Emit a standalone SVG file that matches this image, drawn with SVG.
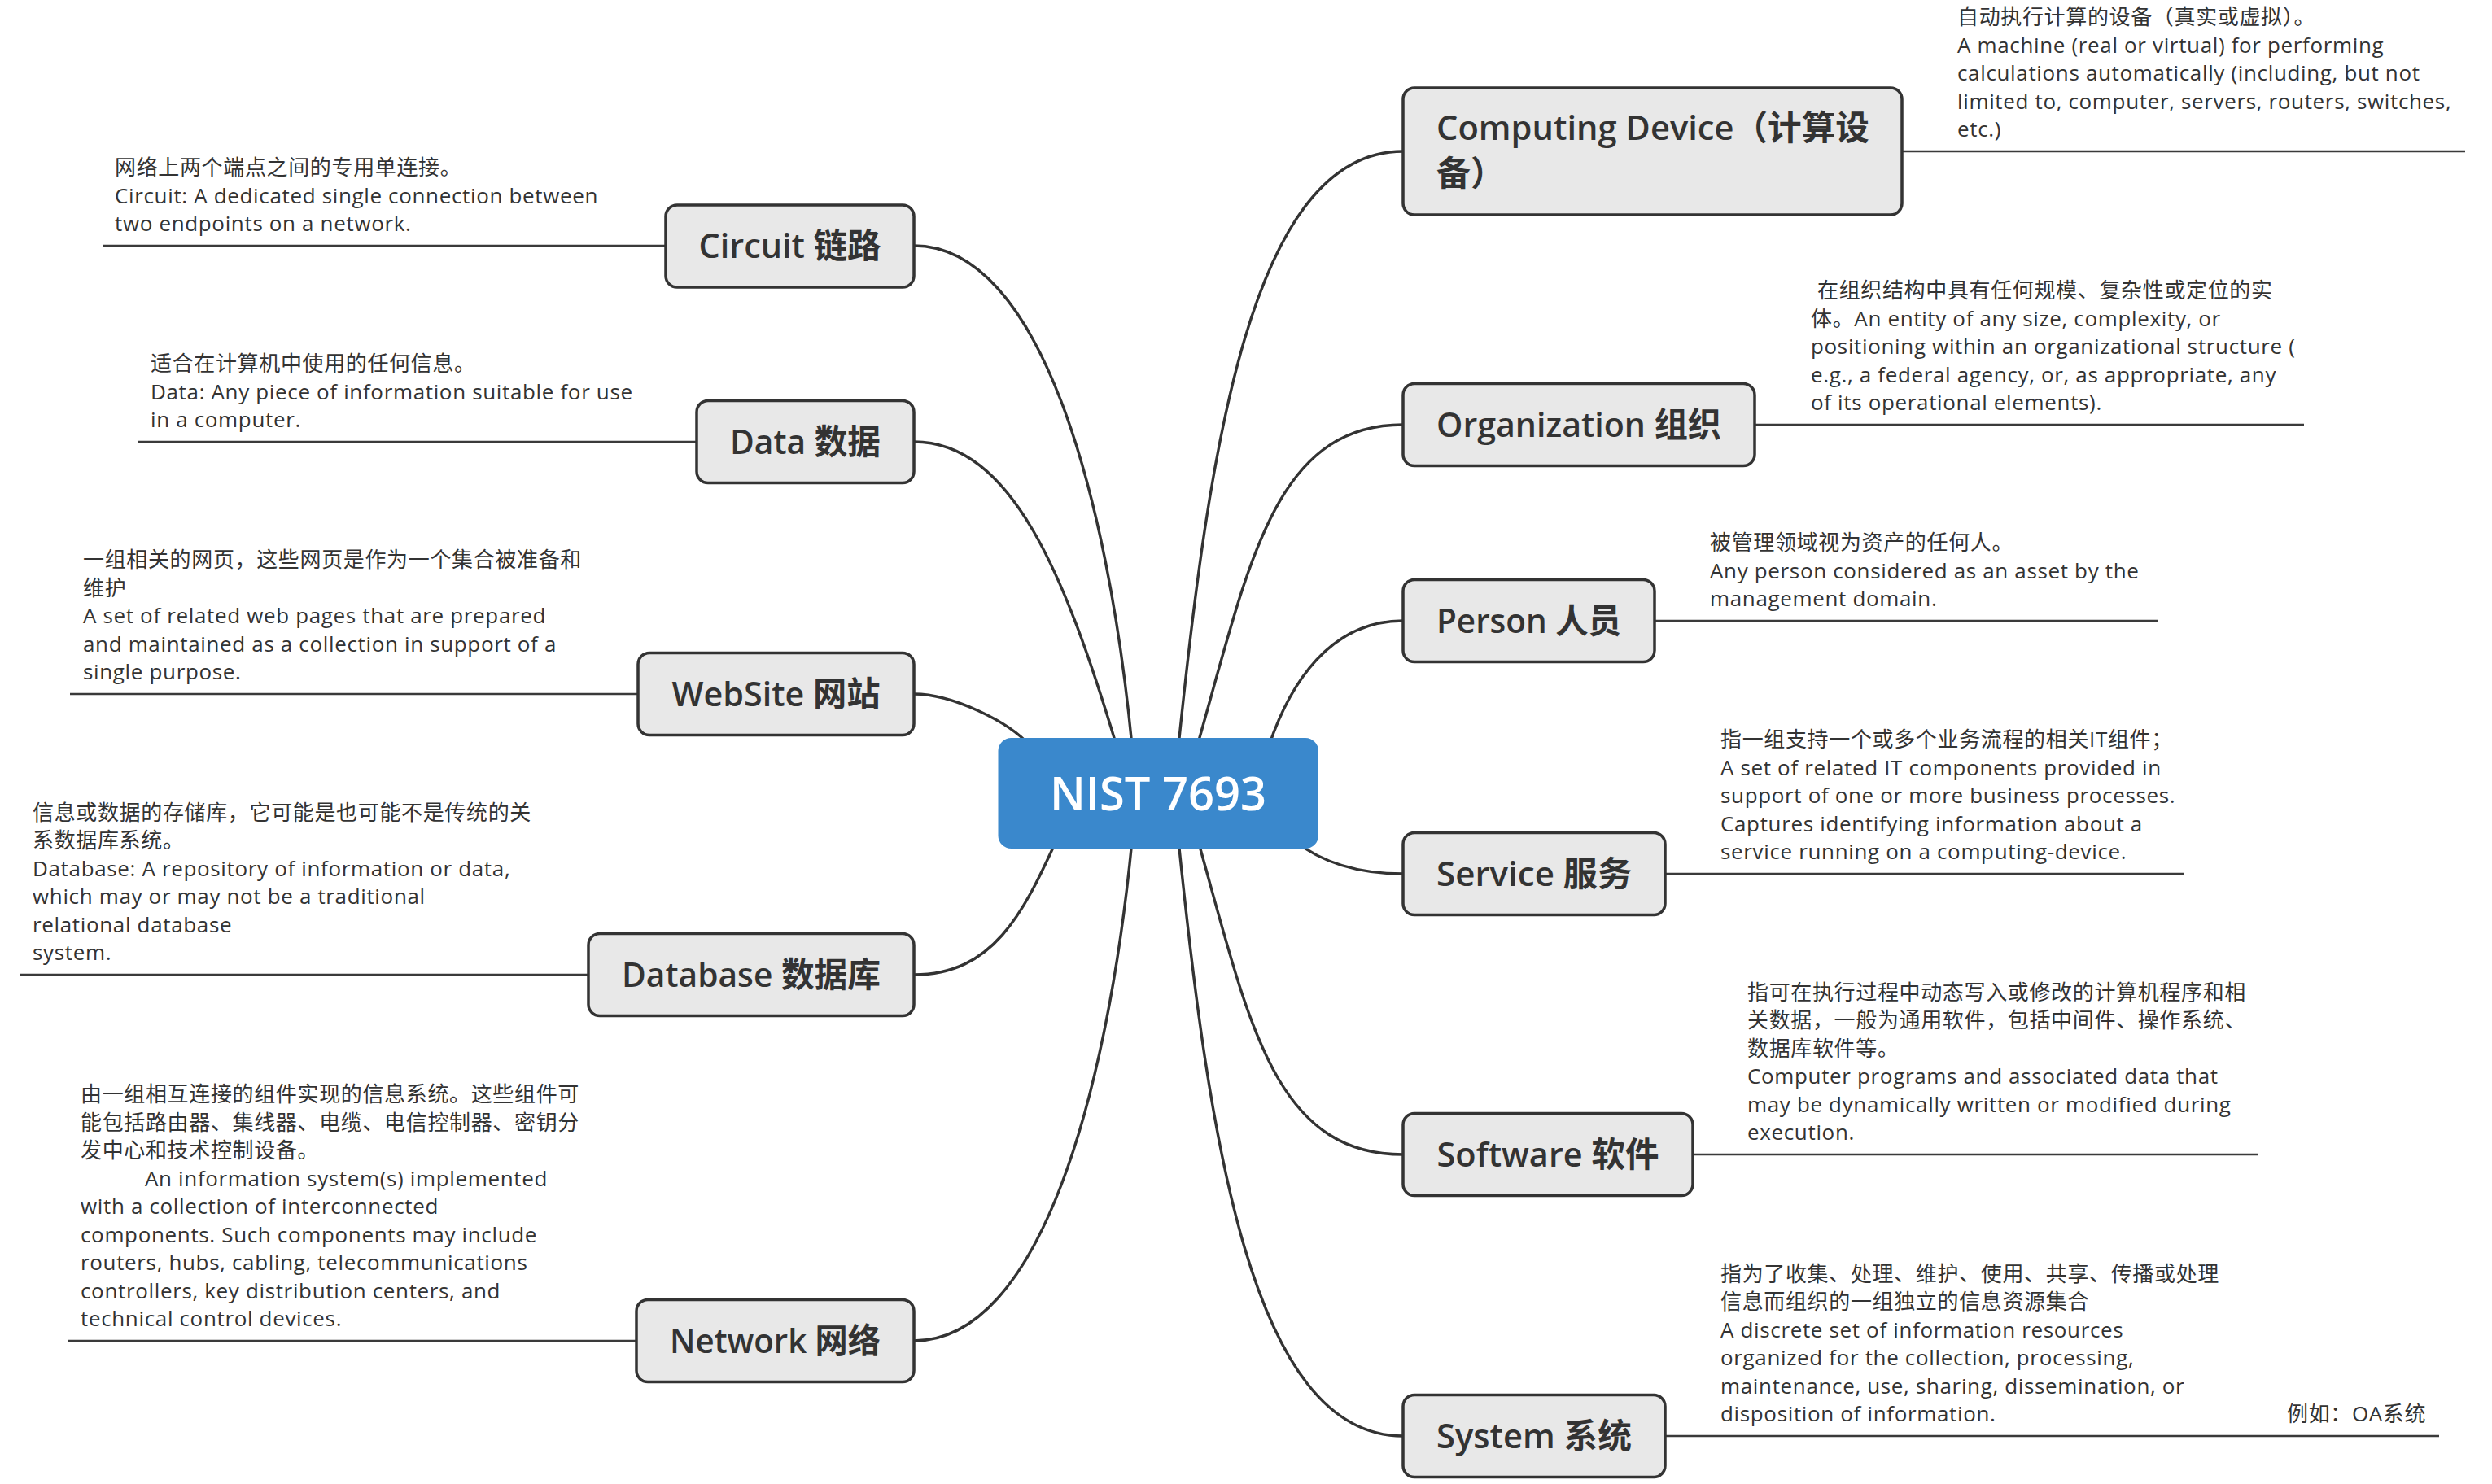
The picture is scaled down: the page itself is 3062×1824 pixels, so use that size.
<svg xmlns="http://www.w3.org/2000/svg" width="3062" height="1824" viewBox="0 0 3062 1824">
<style>
.box{fill:#E8E8E8;stroke:#333;stroke-width:3.5}
.root{fill:#3A88CC}
.lbl{font-family:"Open Sans","Noto Sans CJK SC",sans-serif;font-size:42px;font-weight:600;fill:#333;text-anchor:middle}
.lbll{font-family:"Open Sans","Noto Sans CJK SC",sans-serif;font-size:42px;font-weight:600;fill:#333}
.rlbl{font-family:"Open Sans","Noto Sans CJK SC",sans-serif;font-size:58px;font-weight:600;fill:#fff;text-anchor:middle}
.desc{font-family:"Open Sans","Noto Sans CJK SC",sans-serif;font-size:26px;fill:#333;letter-spacing:0.65px}
.ul{stroke:#3a3a3a;stroke-width:2.5}
.conn{fill:none;stroke:#333;stroke-width:3.4}
</style>
<rect width="3062" height="1824" fill="#fff"/>
<g id="connectors">
<path class="conn" d="M1391,917 C1361,607 1278,302 1123,302"/>
<path class="conn" d="M1372,917 C1309,707 1243,543 1123,543"/>
<path class="conn" d="M1266,917 C1240,887 1170,853 1123,853"/>
<path class="conn" d="M1298,1033 C1257,1123 1220,1198 1123,1198"/>
<path class="conn" d="M1391,1033 C1361,1343 1278,1648 1123,1648"/>
<path class="conn" d="M1448,917 C1485,557 1536,186 1724,186"/>
<path class="conn" d="M1471,917 C1534,697 1564,522 1724,522"/>
<path class="conn" d="M1559,917 C1585,840 1634,763 1724,763"/>
<path class="conn" d="M1590,1033 C1630,1065 1680,1074 1724,1074"/>
<path class="conn" d="M1472,1033 C1534,1253 1564,1419 1724,1419"/>
<path class="conn" d="M1448,1033 C1485,1393 1536,1765 1724,1765"/>
</g>
<g id="root">
<rect class="root" x="1226.5" y="907" width="393.5" height="136" rx="16"/>
<text class="rlbl" x="1423" y="996" textLength="266" lengthAdjust="spacingAndGlyphs">NIST 7693</text>
</g>
<g id="circuit">
<line class="ul" x1="126" y1="302" x2="818" y2="302"/>
<rect class="box" x="818" y="252" width="305" height="101" rx="14"/>
<text class="lbl" x="970.5" y="317" textLength="224" lengthAdjust="spacingAndGlyphs">Circuit 链路</text>
<text class="desc" x="141" y="215"><tspan x="141" y="215">网络上两个端点之间的专用单连接。</tspan><tspan x="141" dy="34.5">Circuit: A dedicated single connection between</tspan><tspan x="141" dy="34.5">two endpoints on a network.</tspan></text>
</g>
<g id="data">
<line class="ul" x1="170" y1="543" x2="856" y2="543"/>
<rect class="box" x="856" y="492.5" width="267" height="101" rx="14"/>
<text class="lbl" x="989.5" y="558" textLength="185" lengthAdjust="spacingAndGlyphs">Data 数据</text>
<text class="desc" x="185" y="456"><tspan x="185" y="456">适合在计算机中使用的任何信息。</tspan><tspan x="185" dy="34.5">Data: Any piece of information suitable for use</tspan><tspan x="185" dy="34.5">in a computer.</tspan></text>
</g>
<g id="website">
<line class="ul" x1="86" y1="853" x2="784" y2="853"/>
<rect class="box" x="784" y="802.5" width="339" height="101" rx="14"/>
<text class="lbl" x="953.5" y="868" textLength="256" lengthAdjust="spacingAndGlyphs">WebSite 网站</text>
<text class="desc" x="102" y="697"><tspan x="102" y="697">一组相关的网页，这些网页是作为一个集合被准备和</tspan><tspan x="102" dy="34.5">维护</tspan><tspan x="102" dy="34.5">A set of related web pages that are prepared</tspan><tspan x="102" dy="34.5">and maintained as a collection in support of a</tspan><tspan x="102" dy="34.5">single purpose.</tspan></text>
</g>
<g id="database">
<line class="ul" x1="25" y1="1198" x2="723" y2="1198"/>
<rect class="box" x="723" y="1147.5" width="400" height="101" rx="14"/>
<text class="lbl" x="923" y="1213" textLength="318" lengthAdjust="spacingAndGlyphs">Database 数据库</text>
<text class="desc" x="40" y="1007.5"><tspan x="40" y="1007.5">信息或数据的存储库，它可能是也可能不是传统的关</tspan><tspan x="40" dy="34.5">系数据库系统。</tspan><tspan x="40" dy="34.5">Database: A repository of information or data,</tspan><tspan x="40" dy="34.5">which may or may not be a traditional</tspan><tspan x="40" dy="34.5">relational database</tspan><tspan x="40" dy="34.5">system.</tspan></text>
</g>
<g id="network">
<line class="ul" x1="84" y1="1648" x2="782" y2="1648"/>
<rect class="box" x="782" y="1597.5" width="341" height="101" rx="14"/>
<text class="lbl" x="952.5" y="1663" textLength="259" lengthAdjust="spacingAndGlyphs">Network 网络</text>
<text class="desc" x="99" y="1354"><tspan x="99" y="1354">由一组相互连接的组件实现的信息系统。这些组件可</tspan><tspan x="99" dy="34.5">能包括路由器、集线器、电缆、电信控制器、密钥分</tspan><tspan x="99" dy="34.5">发中心和技术控制设备。</tspan><tspan x="178" dy="34.5">An information system(s) implemented</tspan><tspan x="99" dy="34.5">with a collection of interconnected</tspan><tspan x="99" dy="34.5">components. Such components may include</tspan><tspan x="99" dy="34.5">routers, hubs, cabling, telecommunications</tspan><tspan x="99" dy="34.5">controllers, key distribution centers, and</tspan><tspan x="99" dy="34.5">technical control devices.</tspan></text>
</g>
<g id="computing-device">
<line class="ul" x1="2337" y1="186" x2="3029" y2="186"/>
<rect class="box" x="1724" y="108" width="613" height="156" rx="14"/>
<text class="lbll" x="1765" y="172"><tspan x="1765" y="172" textLength="532" lengthAdjust="spacingAndGlyphs">Computing Device（计算设</tspan><tspan x="1765" y="228">备）</tspan></text>
<text class="desc" x="2405" y="30"><tspan x="2405" y="30">自动执行计算的设备（真实或虚拟）。</tspan><tspan x="2405" dy="34.5">A machine (real or virtual) for performing</tspan><tspan x="2405" dy="34.5">calculations automatically (including, but not</tspan><tspan x="2405" dy="34.5">limited to, computer, servers, routers, switches,</tspan><tspan x="2405" dy="34.5">etc.)</tspan></text>
</g>
<g id="organization">
<line class="ul" x1="2156" y1="522" x2="2831" y2="522"/>
<rect class="box" x="1724" y="471.5" width="432" height="101" rx="14"/>
<text class="lbl" x="1940" y="537" textLength="350" lengthAdjust="spacingAndGlyphs">Organization 组织</text>
<text class="desc" x="2233" y="366"><tspan x="2233" y="366">在组织结构中具有任何规模、复杂性或定位的实</tspan><tspan x="2225" dy="34.5">体。An entity of any size, complexity, or</tspan><tspan x="2225" dy="34.5">positioning within an organizational structure (</tspan><tspan x="2225" dy="34.5">e.g., a federal agency, or, as appropriate, any</tspan><tspan x="2225" dy="34.5">of its operational elements).</tspan></text>
</g>
<g id="person">
<line class="ul" x1="2033" y1="763" x2="2651" y2="763"/>
<rect class="box" x="1724" y="712.5" width="309" height="101" rx="14"/>
<text class="lbl" x="1878.5" y="778" textLength="227" lengthAdjust="spacingAndGlyphs">Person 人员</text>
<text class="desc" x="2101" y="676"><tspan x="2101" y="676">被管理领域视为资产的任何人。</tspan><tspan x="2101" dy="34.5">Any person considered as an asset by the</tspan><tspan x="2101" dy="34.5">management domain.</tspan></text>
</g>
<g id="service">
<line class="ul" x1="2046" y1="1074" x2="2684" y2="1074"/>
<rect class="box" x="1724" y="1023.5" width="322" height="101" rx="14"/>
<text class="lbl" x="1885" y="1089" textLength="240" lengthAdjust="spacingAndGlyphs">Service 服务</text>
<text class="desc" x="2114" y="918"><tspan x="2114" y="918">指一组支持一个或多个业务流程的相关IT组件；</tspan><tspan x="2114" dy="34.5">A set of related IT components provided in</tspan><tspan x="2114" dy="34.5">support of one or more business processes.</tspan><tspan x="2114" dy="34.5">Captures identifying information about a</tspan><tspan x="2114" dy="34.5">service running on a computing-device.</tspan></text>
</g>
<g id="software">
<line class="ul" x1="2080" y1="1419" x2="2775" y2="1419"/>
<rect class="box" x="1724" y="1368.5" width="356" height="101" rx="14"/>
<text class="lbl" x="1902" y="1434" textLength="273" lengthAdjust="spacingAndGlyphs">Software 软件</text>
<text class="desc" x="2147" y="1228.5"><tspan x="2147" y="1228.5">指可在执行过程中动态写入或修改的计算机程序和相</tspan><tspan x="2147" dy="34.5">关数据，一般为通用软件，包括中间件、操作系统、</tspan><tspan x="2147" dy="34.5">数据库软件等。</tspan><tspan x="2147" dy="34.5">Computer programs and associated data that</tspan><tspan x="2147" dy="34.5">may be dynamically written or modified during</tspan><tspan x="2147" dy="34.5">execution.</tspan></text>
</g>
<g id="system">
<line class="ul" x1="2046" y1="1765" x2="2997" y2="1765"/>
<rect class="box" x="1724" y="1714.5" width="322" height="101" rx="14"/>
<text class="lbl" x="1885" y="1780" textLength="240" lengthAdjust="spacingAndGlyphs">System 系统</text>
<text class="desc" x="2114" y="1574.5"><tspan x="2114" y="1574.5">指为了收集、处理、维护、使用、共享、传播或处理</tspan><tspan x="2114" dy="34.5">信息而组织的一组独立的信息资源集合</tspan><tspan x="2114" dy="34.5">A discrete set of information resources</tspan><tspan x="2114" dy="34.5">organized for the collection, processing,</tspan><tspan x="2114" dy="34.5">maintenance, use, sharing, dissemination, or</tspan><tspan x="2114" dy="34.5">disposition of information.</tspan></text>
<text class="desc" x="2810" y="1747">例如：OA系统</text>
</g>
</svg>
